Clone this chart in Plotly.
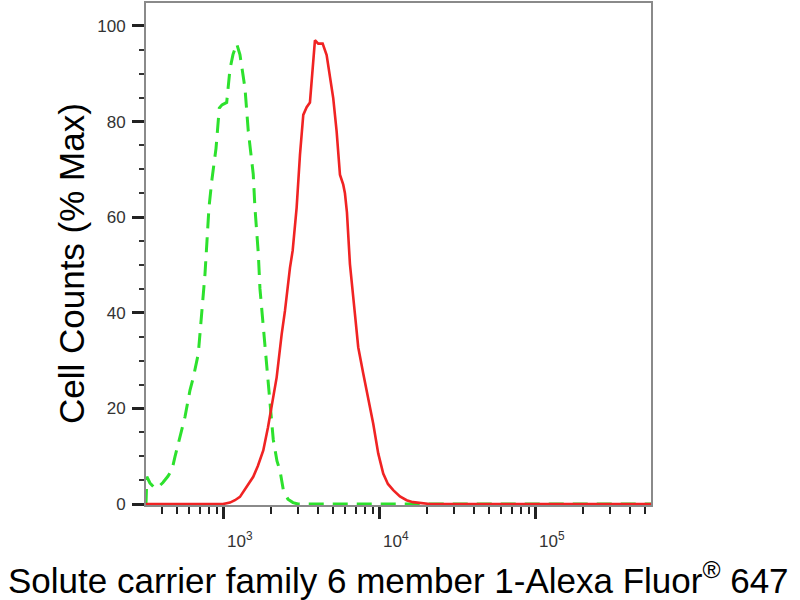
import numpy as np
import plotly.graph_objects as go

# isotype control (green, dashed)
ctrl_x = [316, 320, 335, 361, 377, 406, 437, 464, 485, 535, 562, 605, 636, 684, 719, 737,
          755, 778, 801, 838, 889, 933, 971, 1041, 1093, 1142, 1206, 1266, 1364, 1432,
          1541, 1580, 1660, 1702, 1787, 1879, 1973, 2071, 2188, 2287, 2401, 2573, 2772,
          2984, 5000, 10000, 100000, 550000]
ctrl_y = [0, 5.7, 4.4, 3.3, 3.5, 4.5, 5.8, 7.2, 9.9, 15.4, 18.2, 23.8, 26.5, 31.4, 39.8, 43.2,
          48, 55, 62, 68, 74.4, 82.8, 83.5, 84, 91, 94, 96.3, 94, 87, 78,
          69, 62, 52.5, 45, 37, 29, 21, 13.5, 9, 7, 3, 1, 0.3,
          0, 0, 0, 0, 0]

# antibody stained sample (red, solid)
ab_x = [316, 985, 1093, 1176, 1266, 1364, 1468, 1541, 1652, 1787, 1915, 2023, 2178, 2345,
        2462, 2651, 2759, 2926, 3073, 3227, 3393, 3561, 3707, 3834, 4027, 4297, 4558,
        4786, 5024, 5284, 5548, 5825, 5973, 6152, 6431, 6922, 7269, 7827, 8426, 9073,
        9766, 10515, 11272, 12190, 13458, 14858, 16308, 18080, 20960, 100000, 550000]
ab_y = [0, 0, 0.3, 0.8, 1.5, 3, 4.5, 5.7, 8, 11.2, 16, 20.3, 26.5, 35.5,
        40.4, 49.4, 53, 62, 73, 81.4, 83, 84, 90.4, 97, 96.3, 96.3, 93.9,
        89.7, 84.9, 77.9, 68.9, 66.8, 65, 61, 50.2, 39.8, 32.8, 27.3, 22.4, 16.8,
        10.6, 6.4, 4.2, 2.9, 1.6, 0.8, 0.4, 0.2, 0, 0, 0]

y_ticks = [0, 20, 40, 60, 80, 100]
x_major = [1e3, 1e4, 1e5]
x_minor = [m * d for d in (100, 1000, 10000, 100000) for m in range(2, 10)]
x_minor = [v for v in x_minor if 316 < v < 550000 and v not in x_major]

fig = go.Figure()
fig.add_trace(go.Scatter(x=ctrl_x, y=ctrl_y, mode='lines',
                         line=dict(color='rgb(45,225,45)', width=3, dash='15px,9px')))
fig.add_trace(go.Scatter(x=ab_x, y=ab_y, mode='lines',
                         line=dict(color='rgb(240,35,35)', width=2.6)))

fig.update_layout(
    width=800, height=600,
    margin=dict(l=146, r=149, t=1, b=95),
    plot_bgcolor='white', paper_bgcolor='white',
    showlegend=False,
    font=dict(family='Liberation Sans, Arial', color='#333'),
)

fig.update_xaxes(
    type='log', range=[np.log10(316), 5.74],
    showgrid=False, zeroline=False,
    showline=True, linecolor='#8a8a8a', linewidth=2, mirror=True,
    tickvals=x_major, ticks='outside', ticklen=12, tickwidth=3, tickcolor='#222',
    showticklabels=False,
    minor=dict(tickvals=x_minor, ticks='outside', ticklen=7, tickwidth=1.5, tickcolor='#222'),
)
fig.update_yaxes(
    range=[-0.2, 104.8],
    showgrid=False, zeroline=False,
    showline=True, linecolor='#8a8a8a', linewidth=2, mirror=True,
    tickvals=y_ticks, ticks='outside', ticklen=12, tickwidth=3, tickcolor='#222',
    tickfont=dict(size=17, color='#333'), ticklabelstandoff=3,
    minor=dict(dtick=5, ticks='outside', ticklen=5, tickwidth=1.5, tickcolor='#333'),
)

# x tick labels as powers of ten, slightly right of the ticks as in the original
for v in x_major:
    fig.add_annotation(x=np.log10(v), xref='x', y=0, yref='paper',
                       text=f"10<sup>{int(np.log10(v))}</sup>", showarrow=False,
                       xanchor='left', yanchor='top', xshift=1, yshift=-22,
                       font=dict(size=17, color='#333'))

fig.add_annotation(x=0.5, xref='paper', y=0, yref='paper',
                   text="Solute carrier family 6 member 1-Alexa Fluor<sup>®</sup> 647",
                   showarrow=False, xanchor='center', yanchor='middle', yshift=-73,
                   font=dict(size=35, color='black'))
fig.add_annotation(x=-0.1485, xref='paper', y=0.48, yref='paper',
                   text="Cell Counts (% Max)", textangle=-90,
                   showarrow=False, xanchor='center', yanchor='middle',
                   font=dict(size=35, color='black'))

fig.write_html("out.html", config={'displayModeBar': False},
               post_script="document.body.style.margin='0';")
